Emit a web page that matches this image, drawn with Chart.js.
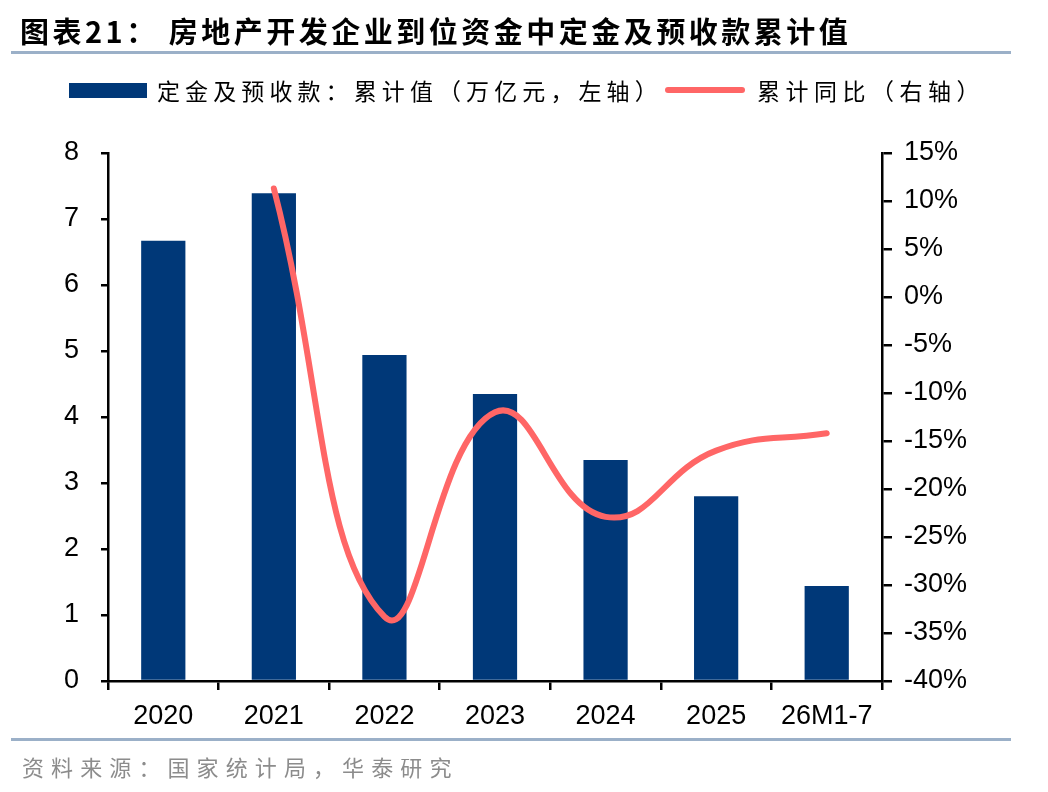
<!DOCTYPE html>
<html>
<head>
<meta charset="utf-8">
<script src="https://cdn.jsdelivr.net/npm/chart.js@4.4.1/dist/chart.umd.min.js"></script>
<style>
  html,body{margin:0;padding:0;background:#fff;}
  #wrap{position:relative;width:1048px;height:792px;overflow:hidden;}
  #c{position:absolute;left:0;top:0;}
  .t{position:absolute;white-space:nowrap;font-family:"Noto Sans CJK SC","Noto Sans",sans-serif;}
  #title{left:20px;top:10px;font-size:29px;font-weight:bold;color:#000;letter-spacing:3.5px;line-height:40px;}
  .rule{position:absolute;left:11px;width:1000px;height:3px;background:#9bb0c8;}
  .leg{top:75px;font-size:23px;color:#000;letter-spacing:5.5px;line-height:30px;}
  #src{left:22px;top:751px;font-size:22px;color:#8c8c8c;letter-spacing:7.1px;line-height:30px;}
</style>
</head>
<body>
<div id="wrap">
  <canvas id="c" width="1048" height="792"></canvas>
  <div id="title" class="t">图表21：&nbsp;房地产开发企业到位资金中定金及预收款累计值</div>
  <div class="rule" style="top:51px"></div>
  <div style="position:absolute;left:69px;top:83px;width:78px;height:15px;background:#003878"></div>
  <div id="leg1" class="t leg" style="left:157px;letter-spacing:5.1px">定金及预收款：累计值（万亿元，左轴）</div>
  <div style="position:absolute;left:665px;top:87px;width:80px;height:6px;border-radius:3px;background:#ff6666"></div>
  <div id="leg2" class="t leg" style="left:757px">累计同比（右轴）</div>
  <div class="rule" style="top:738px"></div>
  <div id="src" class="t">资料来源：国家统计局，华泰研究</div>
</div>
<script>
const categories = ['2020','2021','2022','2023','2024','2025','26M1-7'];
const depositValues = [6.67, 7.39, 4.94, 4.35, 3.35, 2.80, 1.44];
const yoyValues = [null, 11.3, -33.3, -12.0, -22.9, -16.0, -14.2];
const leftTicks = [0,1,2,3,4,5,6,7,8];
const rightTicks = [-40,-35,-30,-25,-20,-15,-10,-5,0,5,10,15];

const tickFont = {family:'"Liberation Sans", Arial, sans-serif', size:27};
const ctx = document.getElementById('c');
new Chart(ctx, {
  data: {
    labels: categories,
    datasets: [
      {
        type:'line', label:'累计同比（右轴）', data: yoyValues, yAxisID:'y2',
        borderColor:'#ff6666', borderWidth:6, pointRadius:0, tension:0.45,
        borderCapStyle:'round', fill:false, spanGaps:false, order:0
      },
      {
        type:'bar', label:'定金及预收款：累计值（万亿元，左轴）', data: depositValues, yAxisID:'y',
        backgroundColor:'#003878', barPercentage:0.4, categoryPercentage:1.0, order:1
      }
    ]
  },
  options: {
    responsive:false, animation:false, devicePixelRatio:1,
    layout:{padding:{left:0,right:0,top:153,bottom:0}},
    plugins:{legend:{display:false}, tooltip:{enabled:false}, title:{display:false}},
    scales:{
      x:{
        offset:true,
        grid:{display:true, offset:true, drawOnChartArea:false, drawTicks:true, tickLength:9, color:'#000', lineWidth:2.5},
        border:{display:true, color:'#000', width:2.5},
        ticks:{font:tickFont, color:'#000', padding:10, maxRotation:0, autoSkip:false},
        afterFit(s){ s.height = 111; }
      },
      y:{
        position:'left', min:0, max:8,
        afterBuildTicks(s){ s.ticks = leftTicks.map(v=>({value:v})); },
        grid:{display:true, drawOnChartArea:false, drawTicks:true, tickLength:7, color:'#000', lineWidth:2.5},
        border:{display:true, color:'#000', width:2.5},
        ticks:{font:tickFont, color:'#000', padding:22},
        afterFit(s){ s.width = 108; }
      },
      y2:{
        position:'right', min:-40, max:15,
        afterBuildTicks(s){ s.ticks = rightTicks.map(v=>({value:v})); },
        grid:{display:true, drawOnChartArea:false, drawTicks:true, tickLength:10, color:'#000', lineWidth:2.5},
        border:{display:true, color:'#000', width:2.5},
        ticks:{font:tickFont, color:'#000', padding:12, callback:v=>v+'%'},
        afterFit(s){ s.width = 166; }
      }
    }
  }
});
</script>
</body>
</html>
